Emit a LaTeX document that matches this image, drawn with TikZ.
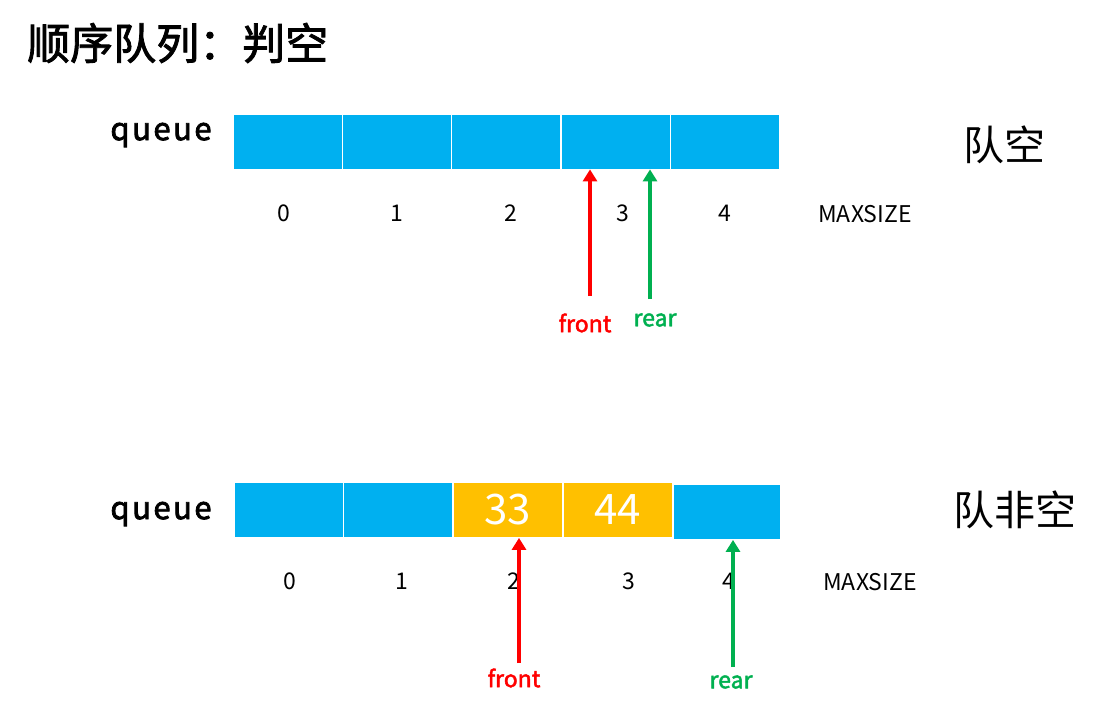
\documentclass[tikz,border=0pt]{standalone}
\usepackage{fontspec}
\setmainfont{Noto Sans CJK SC}[AutoFakeBold=2]
\newfontfamily\qfont{Noto Sans CJK SC}[AutoFakeBold=2.5, LetterSpace=8]
\usepackage{tikz}
\usetikzlibrary{arrows.meta,positioning}

\definecolor{qblue}{HTML}{00B0F0}
\definecolor{qyellow}{HTML}{FFC000}
\definecolor{qred}{HTML}{FF0000}
\definecolor{qgreen}{HTML}{00B050}

\begin{document}
\begin{tikzpicture}[x=1pt, y=-1pt,
    cell/.style={rectangle, draw=white, line width=0.8pt, fill=qblue,
                 minimum width=109pt, minimum height=55pt, inner sep=0pt,
                 text=white, font=\fontsize{42}{42}\selectfont},
    idx/.style={font=\fontsize{23}{23}\selectfont, inner sep=0pt},
    ptr/.style={line width=4pt, -{Triangle[length=12pt, width=14pt]}},
    ptrl/.style={font=\fontsize{23}{23}\selectfont\bfseries, inner sep=0pt},
    qname/.style={font=\qfont\fontsize{31}{31}\selectfont\bfseries, inner sep=0pt},
    state/.style={font=\fontsize{41}{41}\selectfont, inner sep=0pt},
  ]
  \useasboundingbox (0,0) rectangle (1107,710);
  \node[anchor=west, font=\fontsize{43}{43}\selectfont\bfseries, inner sep=0pt] (title) at (27,43) {顺序队列：判空};

  % empty queue
  \node[qname] (tq) at (161,135) {queue};
  \foreach \i in {0,...,4}
    \node[cell] (t\i) at (287.5+109.4*\i, 141.5) {};
  \foreach \i/\x in {0/284,1/397,2/511,3/623,4/725}
    \node[idx] (ti\i) at (\x,213) {\i};
  \node[idx] (tmax) at (865,214) {MAXSIZE};
  \node[state] (tstate) at (1004,145) {队空};
  \node[ptrl, text=qred] (tfront) at (585,323) {front};
  \node[ptrl, text=qgreen] (trear) at (655,320) {rear};
  \coordinate (tf) at (590,296);
  \coordinate (tr) at (650,299);
  \draw[ptr, qred] (tf) -- (tf |- t3.south);
  \draw[ptr, qgreen] (tr) -- (tr |- t3.south);

  % non-empty queue
  \node[qname] (bq) at (161,514) {queue};
  \foreach \i/\c/\v in {0/qblue/,1/qblue/,2/qyellow/33,3/qyellow/44}
    \node[cell, fill=\c] (b\i) at (288.5+109.7*\i, 510) {\v};
  \node[cell, minimum width=107pt] (b4) at (727,512) {};
  \foreach \i/\x in {0/290,1/402,2/514,3/629,4/729}
    \node[idx] (bi\i) at (\x,581) {\i};
  \node[idx] (bmax) at (870,582) {MAXSIZE};
  \node[state] (bstate) at (1015,510) {队非空};
  \node[ptrl, text=qred] (bfront) at (514,678) {front};
  \node[ptrl, text=qgreen] (brear) at (731,682) {rear};
  \coordinate (bf) at (519,663);
  \coordinate (br) at (733,667);
  \draw[ptr, qred] (bf) -- (bf |- b2.south);
  \draw[ptr, qgreen] (br) -- (br |- b4.south);
\end{tikzpicture}
\end{document}
